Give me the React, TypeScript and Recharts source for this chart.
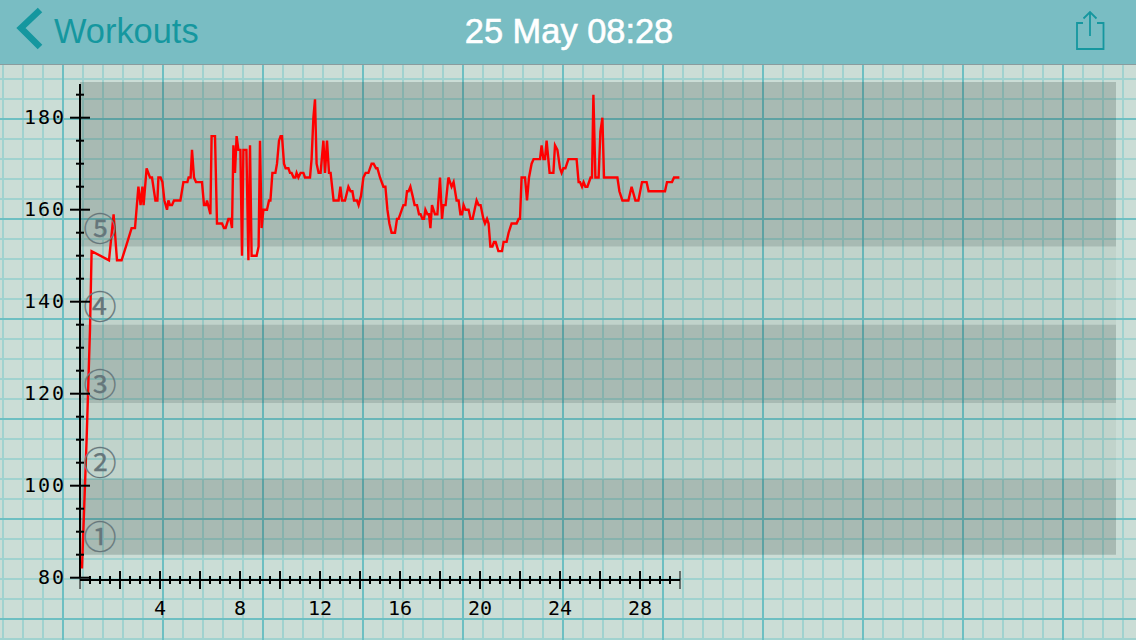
import { ComposedChart, Line, ReferenceArea, ReferenceDot, ReferenceLine, XAxis, YAxis } from "recharts";

const COLOR_NAV = "#79bdc3";
const COLOR_TINT = "#15979f";
const COLOR_PAPER = "#cbddd6";
const COLOR_MINOR = "#a0d2cf";
const COLOR_MAJOR = "#6dbfc2";
const COLOR_ZONE = "#66767a";
const MONO = "'DejaVu Sans Mono', monospace";

// elapsed minutes of each heart rate sample
const minutes = [
  0.1, 0.33, 0.5, 0.58, 1.45, 1.68, 1.85, 2.08, 2.37, 2.58,
  2.75, 2.92, 3.03, 3.12, 3.18, 3.33, 3.5, 3.6, 3.77, 3.87,
  3.92, 4.03, 4.12, 4.22, 4.35, 4.42, 4.5, 4.6, 4.7, 5.02,
  5.17, 5.37, 5.43, 5.53, 5.6, 5.7, 5.8, 6.1, 6.2, 6.3,
  6.35, 6.52, 6.58, 6.75, 6.85, 7.1, 7.2, 7.28, 7.42, 7.52,
  7.6, 7.67, 7.75, 7.83, 7.92, 8.02, 8.1, 8.17, 8.32, 8.42,
  8.5, 8.58, 8.83, 8.93, 9.0, 9.08, 9.17, 9.35, 9.45, 9.52,
  9.62, 9.7, 9.77, 9.85, 9.95, 10.03, 10.1, 10.2, 10.28, 10.42,
  10.5, 10.58, 10.68, 10.77, 10.83, 10.92, 11.03, 11.17, 11.25, 11.5,
  11.58, 11.67, 11.75, 11.83, 11.93, 12.03, 12.17, 12.25, 12.35, 12.45,
  12.53, 12.68, 12.93, 13.02, 13.1, 13.25, 13.42, 13.53, 13.62, 13.7,
  13.85, 13.93, 14.05, 14.17, 14.28, 14.42, 14.58, 14.68, 14.8, 14.87,
  15.0, 15.17, 15.27, 15.37, 15.47, 15.58, 15.75, 15.85, 15.93, 16.17,
  16.27, 16.35, 16.43, 16.52, 16.63, 16.73, 16.85, 16.95, 17.03, 17.12,
  17.2, 17.27, 17.37, 17.45, 17.52, 17.6, 17.75, 17.87, 18.0, 18.1,
  18.17, 18.28, 18.42, 18.58, 18.68, 18.83, 18.93, 19.02, 19.1, 19.18,
  19.27, 19.43, 19.53, 19.63, 19.83, 19.93, 20.03, 20.17, 20.25, 20.35,
  20.43, 20.52, 20.62, 20.7, 20.78, 20.92, 21.1, 21.18, 21.33, 21.43,
  21.58, 21.83, 21.93, 22.0, 22.08, 22.25, 22.35, 22.45, 22.58, 22.68,
  23.0, 23.08, 23.17, 23.25, 23.33, 23.48, 23.67, 23.75, 23.87, 24.0,
  24.08, 24.17, 24.27, 24.42, 24.83, 24.93, 25.0, 25.1, 25.18, 25.27,
  25.37, 25.53, 25.6, 25.67, 25.77, 25.93, 26.02, 26.12, 26.2, 26.87,
  26.97, 27.12, 27.42, 27.58, 27.77, 27.92, 28.1, 28.33, 28.43, 29.25,
  29.35, 29.6, 29.7, 29.97,
];

const heartRate = [
  82, 110, 134, 151, 149, 159, 149, 149, 153, 156,
  156, 165, 161, 165, 161, 169, 167, 167, 162, 162,
  167, 167, 166, 162, 160, 162, 161, 161, 162, 162,
  166, 166, 167, 167, 173, 167, 166, 166, 161, 161,
  162, 159, 176, 176, 157, 157, 156, 156, 158, 158,
  156, 174, 168, 176, 173, 173, 150, 173, 173, 149,
  174, 150, 150, 152, 175, 156, 160, 160, 162, 162,
  168, 168, 168, 170, 175, 176, 176, 170, 169, 169,
  168, 168, 167, 167, 168, 167, 168, 168, 167, 167,
  171, 180, 184, 170, 168, 168, 175, 168, 175, 168,
  168, 162, 162, 165, 162, 162, 165, 164, 164, 162,
  162, 161, 163, 167, 168, 168, 170, 170, 169, 169,
  167, 165, 165, 160, 157, 155, 155, 158, 158, 161,
  161, 164, 164, 165, 163, 161, 161, 159, 159, 158,
  158, 160, 159, 159, 156, 161, 159, 159, 167, 158,
  161, 161, 167, 165, 166, 162, 162, 159, 159, 161,
  160, 160, 158, 158, 162, 161, 161, 158, 157, 158,
  157, 152, 152, 153, 153, 151, 151, 153, 153, 155,
  157, 157, 158, 158, 167, 167, 162, 167, 170, 171,
  171, 174, 171, 171, 175, 168, 168, 174, 173, 169,
  168, 169, 169, 171, 171, 166, 166, 165, 166, 165,
  165, 167, 167, 185, 167, 167, 177, 180, 167, 167,
  164, 162, 162, 165, 162, 162, 166, 166, 164, 164,
  166, 166, 167, 167,
];

const xTicks = [
  0, 0.5, 1, 1.5, 2, 2.5, 3, 3.5, 4, 4.5, 5, 5.5, 6, 6.5, 7, 7.5, 8, 8.5, 9, 9.5,
  10, 10.5, 11, 11.5, 12, 12.5, 13, 13.5, 14, 14.5, 15, 15.5, 16, 16.5, 17, 17.5, 18, 18.5, 19, 19.5,
  20, 20.5, 21, 21.5, 22, 22.5, 23, 23.5, 24, 24.5, 25, 25.5, 26, 26.5, 27, 27.5, 28, 28.5, 29, 29.5, 30,
];
const xLabels = [4, 8, 12, 16, 20, 24, 28];
const yTicks = [80, 85, 90, 95, 100, 105, 110, 115, 120, 125, 130, 135, 140, 145, 150, 155, 160, 165, 170, 175, 180, 185];
const yLabels = [80, 100, 120, 140, 160, 180];

// heart rate zones, strong and faint bands take turns
const strongBands = [[85, 101.5], [118, 135], [152, 187.76]];
const faintBands = [[101.5, 118], [135, 152]];
const zoneLabels = ["①", "②", "③", "④", "⑤"];
const zoneValues = [89, 105, 122, 139, 156];

const chartData = minutes.map((m, i) => ({ minute: m, bpm: heartRate[i] }));

function XTick({ x, y, payload }: any) {
  const v = payload.value;
  const major = v % 2 === 0;
  const half = major ? 9 : 4;
  const thin = v === 0 || v === 30;
  return (
    <g>
      <line x1={x} x2={x} y1={y - half} y2={y + half} stroke="#000" strokeWidth={thin ? 1 : 2} />
      {xLabels.includes(v) && (
        <text x={x} y={y + 35} textAnchor="middle" fontFamily={MONO} fontSize={20} fill="#000">
          {v}
        </text>
      )}
    </g>
  );
}

function YTick({ x, y, payload }: any) {
  const v = payload.value;
  const major = v % 20 === 0;
  const half = major ? 10 : 4;
  return (
    <g>
      <line x1={x - half} x2={x + half} y1={y} y2={y} stroke="#000" strokeWidth={2} />
      {yLabels.includes(v) && (
        <text x={66} y={y + 6.5} textAnchor="end" fontFamily={MONO} fontSize={20} letterSpacing={2} fill="#000">
          {v}
        </text>
      )}
    </g>
  );
}

function ZoneGlyph({ cx, cy, glyph }: any) {
  return (
    <text
      x={cx}
      y={cy - 1.5}
      textAnchor="middle"
      dominantBaseline="central"
      fontFamily="'Noto Sans CJK JP'"
      fontSize={33}
      fill={COLOR_ZONE}
      stroke={COLOR_ZONE}
      strokeWidth={0.25}
    >
      {glyph}
    </text>
  );
}

function NavBar() {
  return (
    <div
      style={{
        position: "absolute",
        left: 0,
        top: 0,
        width: 1136,
        height: 64,
        background: COLOR_NAV,
        borderBottom: "1px solid #8a9c9e",
      }}
    >
      <svg width={1136} height={64} style={{ position: "absolute", left: 0, top: 0 }}>
        <polyline points="40,10 21,28 40,47" fill="none" stroke={COLOR_TINT} strokeWidth={6.5} />
        <path
          d="M1083 23 H1077 V49 H1103.5 V23 H1097 M1090 36 V12 M1083.5 18.5 L1090 12 L1096.5 18.5"
          fill="none"
          stroke={COLOR_TINT}
          strokeWidth={1.8}
        />
      </svg>
      <div
        style={{
          position: "absolute",
          left: 54,
          top: 11,
          fontFamily: "'Liberation Sans'",
          fontSize: 34.4,
          lineHeight: "40px",
          color: COLOR_TINT,
        }}
      >
        Workouts
      </div>
      <div
        style={{
          position: "absolute",
          left: 369,
          width: 400,
          top: 11,
          textAlign: "center",
          fontFamily: "'Liberation Sans'",
          fontSize: 34.4,
          lineHeight: "40px",
          color: "#fff",
          WebkitTextStroke: "0.6px #fff",
        }}
      >
        25 May 08:28
      </div>
    </div>
  );
}

export default function App() {
  return (
    <div
      style={{
        position: "absolute",
        left: 0,
        top: 0,
        width: 1136,
        height: 640,
        overflow: "hidden",
        backgroundColor: COLOR_PAPER,
        // graph paper behind the chart
        backgroundImage: [
          `linear-gradient(to right, ${COLOR_MAJOR} 2px, transparent 2px)`,
          `linear-gradient(to bottom, ${COLOR_MAJOR} 2px, transparent 2px)`,
          `linear-gradient(to right, ${COLOR_MINOR} 2px, transparent 2px)`,
          `linear-gradient(to bottom, ${COLOR_MINOR} 2px, transparent 2px)`,
        ].join(","),
        backgroundSize: "100px 100%, 100% 100px, 20px 100%, 100% 20px",
        backgroundPosition: "62px 0, 0 18px, 2px 0, 0 18px",
      }}
    >
      <ComposedChart
        width={1136}
        height={640}
        data={chartData}
        margin={{ top: 82, right: 20, bottom: 0, left: 0 }}
        style={{ position: "absolute", left: 0, top: 0 }}
      >
        <XAxis
          dataKey="minute"
          type="number"
          domain={[0, 51.8]}
          ticks={xTicks}
          interval={0}
          height={60}
          tickSize={0}
          tickMargin={0}
          axisLine={false}
          tickLine={false}
          tick={<XTick />}
          allowDataOverflow
        />
        <YAxis
          type="number"
          domain={[79.5, 187.76]}
          ticks={yTicks}
          interval={0}
          width={80}
          tickSize={0}
          tickMargin={0}
          axisLine={false}
          tickLine={false}
          tick={<YTick />}
          allowDataOverflow
        />
        {strongBands.map(([y1, y2]) => (
          <ReferenceArea key={y1} x1={0} x2={51.8} y1={y1} y2={y2} fill="#203028" fillOpacity={0.2} stroke="none" />
        ))}
        {faintBands.map(([y1, y2]) => (
          <ReferenceArea key={y1} x1={0} x2={51.8} y1={y1} y2={y2} fill="#203028" fillOpacity={0.06} stroke="none" />
        ))}
        <ReferenceLine
          segment={[
            { x: 0, y: 79.5 },
            { x: 30, y: 79.5 },
          ]}
          stroke="#000"
          strokeWidth={2}
        />
        <ReferenceLine
          segment={[
            { x: 0, y: 80 },
            { x: 0, y: 187.3 },
          ]}
          stroke="#000"
          strokeWidth={2}
        />
        {zoneLabels.map((glyph, i) => (
          <ReferenceDot key={glyph} x={1} y={zoneValues[i]} r={0} shape={<ZoneGlyph glyph={glyph} />} />
        ))}
        <Line
          dataKey="bpm"
          type="linear"
          stroke="#ff0000"
          strokeWidth={2.4}
          dot={false}
          activeDot={false}
          isAnimationActive={false}
        />
      </ComposedChart>
      <NavBar />
    </div>
  );
}
